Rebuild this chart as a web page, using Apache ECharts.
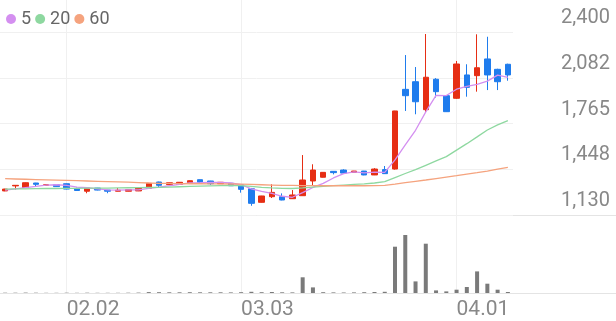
<!DOCTYPE html>
<html><head><meta charset="utf-8">
<script src="https://cdn.jsdelivr.net/npm/echarts@6/dist/echarts.min.js"></script>
<style>html,body{margin:0;padding:0;background:#fff}#c{width:616px;height:321px}</style>
</head><body><div id="c"></div>
<script>
const dates = ['01.23','01.26','01.27','01.28','01.29','01.30',
  '02.02','02.03','02.04','02.05','02.06','02.09','02.10','02.11','02.12','02.13',
  '02.19','02.20','02.23','02.24','02.25','02.26','02.27',
  '03.03','03.04','03.05','03.06','03.09','03.10','03.11','03.12','03.13',
  '03.16','03.17','03.18','03.19','03.20','03.23','03.24','03.25','03.26','03.27',
  '03.30','03.31','04.01','04.02','04.03','04.06','04.07','04.08'];
const openP  = [1297,1332,1320,1352,1336,1340,1347,1314,1295,1317,1303,1295,1295,1297,1315,1359,1341,1343,1354,1375,1366,1347,1350,1340,1312,1218,1257,1257,1243,1264,1366,1392,1433,1442,1426,1435,1408,1445,1449,2002,2055,1861,2072,1958,1940,2102,2097,2213,2141,2176];
const closeP = [1310,1336,1354,1343,1340,1327,1310,1300,1317,1303,1295,1302,1306,1320,1350,1336,1354,1357,1368,1357,1347,1357,1333,1308,1211,1262,1287,1234,1269,1373,1442,1426,1424,1421,1435,1408,1449,1417,1852,1958,1916,2086,1986,1847,2178,2016,2152,2102,2055,2102];
const lowP   = [1295,1307,1318,1327,1333,1325,1308,1298,1281,1301,1281,1294,1294,1296,1314,1322,1340,1342,1353,1352,1338,1346,1332,1285,1194,1216,1248,1232,1241,1262,1338,1390,1412,1419,1425,1406,1407,1415,1445,1852,1829,1843,1945,1845,1936,1951,1986,1997,1997,2062];
const highP  = [1312,1338,1356,1353,1343,1341,1349,1320,1318,1318,1304,1317,1307,1321,1352,1361,1355,1358,1370,1376,1367,1358,1351,1341,1318,1263,1343,1280,1303,1546,1482,1428,1434,1447,1436,1436,1455,1470,1853,2240,2157,2386,2080,1960,2199,2176,2384,2367,2145,2180];
const volume = [3,3,4,3,2,2,3,2,3,2,2,2,3,4,9,8,7,7,8,7,7,7,6,8,12,8,10,7,6,157,56,8,6,5,6,8,10,12,463,580,116,493,26,16,33,60,216,93,33,10];
const ma5  = [1303,1312,1320,1328,1337,1340,1335,1324,1319,1311,1305,1303,1305,1305,1315,1323,1333,1343,1353,1354,1357,1357,1352,1340,1311,1294,1280,1260,1253,1285,1321,1349,1387,1417,1430,1423,1427,1426,1512,1617,1718,1846,1960,1959,2003,2023,2036,2059,2101,2085];
const ma20 = [1310,1311,1312,1313,1314,1314,1315,1315,1316,1316,1317,1318,1319,1320,1321,1322,1324,1326,1328,1330,1332,1334,1335,1334,1328,1322,1318,1315,1314,1318,1324,1328,1334,1338,1342,1346,1352,1361,1390,1418,1445,1475,1505,1535,1580,1625,1672,1720,1755,1785];
const ma60 = [1382,1380,1378,1376,1374,1372,1370,1368,1366,1364,1362,1360,1358,1355,1352,1350,1349,1348,1347,1347,1346,1346,1345,1344,1342,1340,1338,1336,1335,1334,1334,1333,1333,1333,1333,1333,1334,1336,1345,1355,1364,1373,1383,1393,1403,1414,1424,1435,1448,1461];
const legendNames = ['5','20','60'];
const xTickDates = ['02.02','03.03','04.01'];
const yTickValues = [1130,1447.5,1765,2082.5,2400];
const yTickLabels = ['1,130','1,448','1,765','2,082','2,400'];

const FONT = 'Roboto, "Noto Sans", sans-serif';
const RED = '#e62e14', BLUE = '#1f7ced';
const PURPLE = '#d48ff0', GREEN = '#8ed8a0', ORANGE = '#f5a37e';
const GRIDC = '#f0f0f0';
const xTicks = xTickDates.map(d => dates.indexOf(d));
const xMin = -0.5, xMax = dates.length - 0.5;

const chart = echarts.init(document.getElementById('c'), null, {renderer:'canvas'});
const pair = arr => arr.map((v, i) => [i, v]);
const lineSeries = (name, arr, color) => ({
  type:'line', name, xAxisIndex:0, yAxisIndex:0, data: pair(arr),
  showSymbol:false, symbol:'circle', smooth:false,
  lineStyle:{width:1.3, color}, itemStyle:{color}, z:3
});
chart.setOption({
  animation:false,
  legend:{data:legendNames, left:1, top:5, icon:'circle', itemWidth:10, itemHeight:10, itemGap:4,
    selectedMode:false, textStyle:{fontFamily:FONT, fontSize:18, color:'#666'}},
  grid:[{left:0, right:103, top:0, height:215}, {left:0, right:103, top:215, height:78}],
  xAxis:[
    {gridIndex:0, type:'value', min:xMin, max:xMax, axisLine:{show:false},
     axisTick:{show:false, customValues:xTicks}, axisLabel:{show:false, customValues:xTicks},
     splitLine:{show:true, lineStyle:{color:GRIDC, width:1}}},
    {gridIndex:1, type:'value', min:xMin, max:xMax, axisLine:{show:false},
     axisTick:{show:false, customValues:xTicks},
     axisLabel:{show:true, customValues:xTicks, formatter:v => dates[Math.round(v)], align:'left', margin:6,
       fontFamily:FONT, fontSize:21, color:'#888'},
     splitLine:{show:true, lineStyle:{color:GRIDC, width:1}}}
  ],
  yAxis:[
    {gridIndex:0, type:'value', position:'right', min:1130, max:2622.1, axisLine:{show:false},
     axisTick:{show:false, customValues:yTickValues},
     axisLabel:{customValues:yTickValues, formatter:v => yTickLabels[yTickValues.indexOf(v)],
       align:'right', margin:97, verticalAlign:'bottom', padding:[0,0,4,0],
       fontFamily:FONT, fontSize:20, color:'#888'},
     splitLine:{show:true, lineStyle:{color:GRIDC, width:1}}},
    {gridIndex:1, type:'value', min:0, max:780, show:false, splitLine:{show:false}}
  ],
  graphic:[
    {type:'line', shape:{x1:0, y1:215.5, x2:616, y2:215.5}, style:{stroke:'#e4e4e4', lineWidth:1}, z:0},
    {type:'line', shape:{x1:0, y1:293.5, x2:616, y2:293.5}, style:{stroke:'#e4e4e4', lineWidth:1}, z:0}
  ],
  series:[
    {type:'candlestick', name:'price', xAxisIndex:0, yAxisIndex:0,
     data: dates.map((d, i) => [i, openP[i], closeP[i], lowP[i], highP[i]]),
     encode:{x:0, y:[1,2,3,4]}, barWidth:6,
     itemStyle:{color:RED, color0:BLUE, borderColor:RED, borderColor0:BLUE, borderWidth:1}, z:2},
    lineSeries('5', ma5, PURPLE),
    lineSeries('20', ma20, GREEN),
    lineSeries('60', ma60, ORANGE),
    {type:'bar', name:'vol', xAxisIndex:1, yAxisIndex:1, data: pair(volume), barWidth:4,
     itemStyle:{color:'#7a7a7a'}}
  ]
});
</script></body></html>
